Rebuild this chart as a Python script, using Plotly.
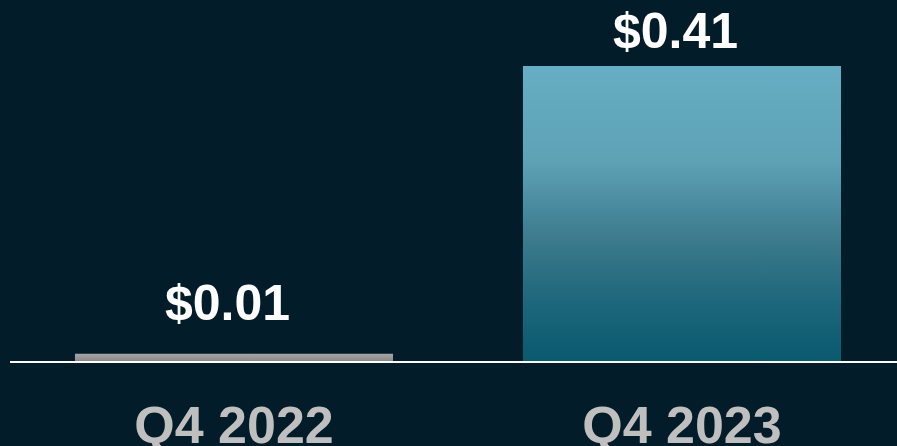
import plotly.graph_objects as go

categories = ["Q4 2022", "Q4 2023"]
eps = [0.01, 0.41]
eps_labels = ["$0.01", "$0.41"]

BG = "#021c29"
FONT = "Liberation Sans, Arial, sans-serif"
bar_width = 0.71
gradients = [
    [[0, "#8a8a8a"], [1, "#a6a6a6"]],
    [[0, "#0a5a70"], [0.07, "#0f5e73"], [0.24, "#236a7e"], [0.41, "#3c7a8c"],
     [0.546, "#4d8ea2"], [0.68, "#5ea2b6"], [1, "#66aec3"]],
]
label_yshift = [21, 5]

fig = go.Figure()
for i, (cat, v) in enumerate(zip(categories, eps)):
    x0, x1 = i - bar_width / 2, i + bar_width / 2
    fig.add_trace(go.Scatter(
        x=[x0, x1, x1, x0, x0], y=[0, 0, v, v, 0],
        mode="lines", line=dict(width=0), fill="toself",
        fillgradient=dict(type="vertical", colorscale=gradients[i], start=0, stop=v),
        hoverinfo="skip", showlegend=False,
    ))
    fig.add_annotation(
        x=i, y=v, text=eps_labels[i], showarrow=False, yanchor="bottom",
        xshift=-6, yshift=label_yshift[i],
        font=dict(family=FONT, size=50, color="white", weight="bold"),
    )

fig.update_layout(
    width=897, height=446,
    margin=dict(l=10, r=0, t=0, b=85, autoexpand=False),
    paper_bgcolor=BG, plot_bgcolor=BG,
    xaxis=dict(
        range=[-0.5, 1.48], tickmode="array", tickvals=[0, 1], ticktext=categories,
        showgrid=False, zeroline=False, showline=True, linecolor="white", linewidth=1.5,
        ticks="", ticklabelstandoff=18, automargin=False,
        tickfont=dict(family=FONT, size=52, color="#bfbfbf", weight="bold"),
        fixedrange=True,
    ),
    yaxis=dict(range=[0, 0.5017], visible=False, fixedrange=True),
    showlegend=False,
)
fig.write_html(
    "out.html",
    config={"displayModeBar": False},
    post_script="document.body.style.margin='0';document.body.style.background='%s';" % BG,
)
